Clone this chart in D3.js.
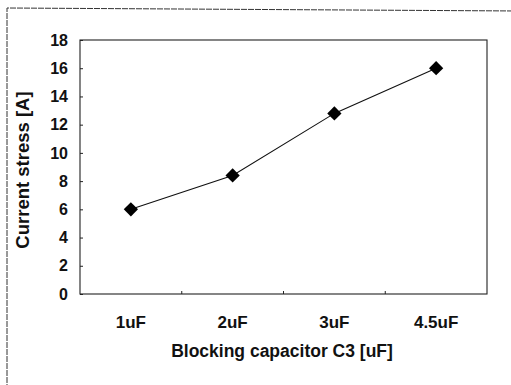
<!DOCTYPE html>
<html>
<head>
<meta charset="utf-8">
<script src="https://cdn.jsdelivr.net/npm/d3@7"></script>
<style>
  body { margin: 0; background: #fff; }
  svg { display: block; }
  .axis text { font-family: Arial, "Liberation Sans", sans-serif; font-weight: bold; font-size: 16px; fill: #111; }
</style>
</head>
<body>
<div id="chart"></div>
<script>
var categories = ["1uF", "2uF", "3uF", "4.5uF"];
var currentStress = [6.0, 8.4, 12.8, 16.0];
var yTicks = [0, 2, 4, 6, 8, 10, 12, 14, 16, 18];

var width = 511, height = 385;
var margin = {top: 40, right: 24, bottom: 91, left: 80};
var chartW = width - margin.left - margin.right,
    chartH = height - margin.top - margin.bottom;

var svg = d3.select('#chart').append('svg')
    .attr('width', width)
    .attr('height', height);

// outer frame of the figure
svg.append('path')
    .attr('d', 'M7,390 L7,8 L520,11')
    .attr('fill', 'none')
    .attr('stroke', '#333')
    .attr('stroke-width', 1)
    .attr('stroke-dasharray', '6,1');

var g = svg.append('g')
    .attr('transform', 'translate(' + margin.left + ',' + margin.top + ')');

var x = d3.scaleBand().domain(categories).range([0, chartW]);
var y = d3.scaleLinear().domain([0, 18]).range([chartH, 0]);

// plot frame
g.append('rect')
    .attr('width', chartW)
    .attr('height', chartH)
    .attr('fill', 'none')
    .attr('stroke', '#222')
    .attr('stroke-width', 1.1);

// y axis, ticks pointing inward
var yAxis = g.append('g').attr('class', 'axis')
    .call(d3.axisLeft(y).tickValues(yTicks).tickSize(-3).tickPadding(12));
yAxis.select('.domain').remove();
yAxis.selectAll('line').attr('stroke', '#222');

// category separators on the x axis
g.selectAll('.sep')
    .data(categories.slice(1))
    .enter().append('line')
    .attr('class', 'sep')
    .attr('x1', function(d) { return x(d); })
    .attr('x2', function(d) { return x(d); })
    .attr('y1', chartH)
    .attr('y2', chartH - 3)
    .attr('stroke', '#222');

var xAxis = g.append('g').attr('class', 'axis')
    .attr('transform', 'translate(0,' + chartH + ')')
    .call(d3.axisBottom(x).tickSize(0).tickPadding(22));
xAxis.select('.domain').remove();
xAxis.selectAll('text').style('font-size', '17px');

var line = d3.line()
    .x(function(d, i) { return x(categories[i]) + x.bandwidth() / 2; })
    .y(function(d) { return y(d); });

g.append('path')
    .datum(currentStress)
    .attr('d', line)
    .attr('fill', 'none')
    .attr('stroke', '#111')
    .attr('stroke-width', 1.1);

g.selectAll('.pt')
    .data(currentStress)
    .enter().append('path')
    .attr('class', 'pt')
    .attr('d', d3.symbol().type(d3.symbolDiamond2).size(130))
    .attr('transform', function(d, i) {
      return 'translate(' + (x(categories[i]) + x.bandwidth() / 2) + ',' + y(d) + ')';
    })
    .attr('fill', '#000');

svg.append('text')
    .attr('x', 282)
    .attr('y', 357)
    .attr('text-anchor', 'middle')
    .style('font-family', 'Arial, "Liberation Sans", sans-serif')
    .style('font-weight', 'bold')
    .style('font-size', '17.5px')
    .attr('fill', '#111')
    .text('Blocking capacitor C3 [uF]');

svg.append('text')
    .attr('transform', 'translate(29,170) rotate(-90)')
    .attr('text-anchor', 'middle')
    .style('font-family', 'Arial, "Liberation Sans", sans-serif')
    .style('font-weight', 'bold')
    .style('font-size', '18.5px')
    .attr('fill', '#111')
    .text('Current stress [A]');
</script>
</body>
</html>
